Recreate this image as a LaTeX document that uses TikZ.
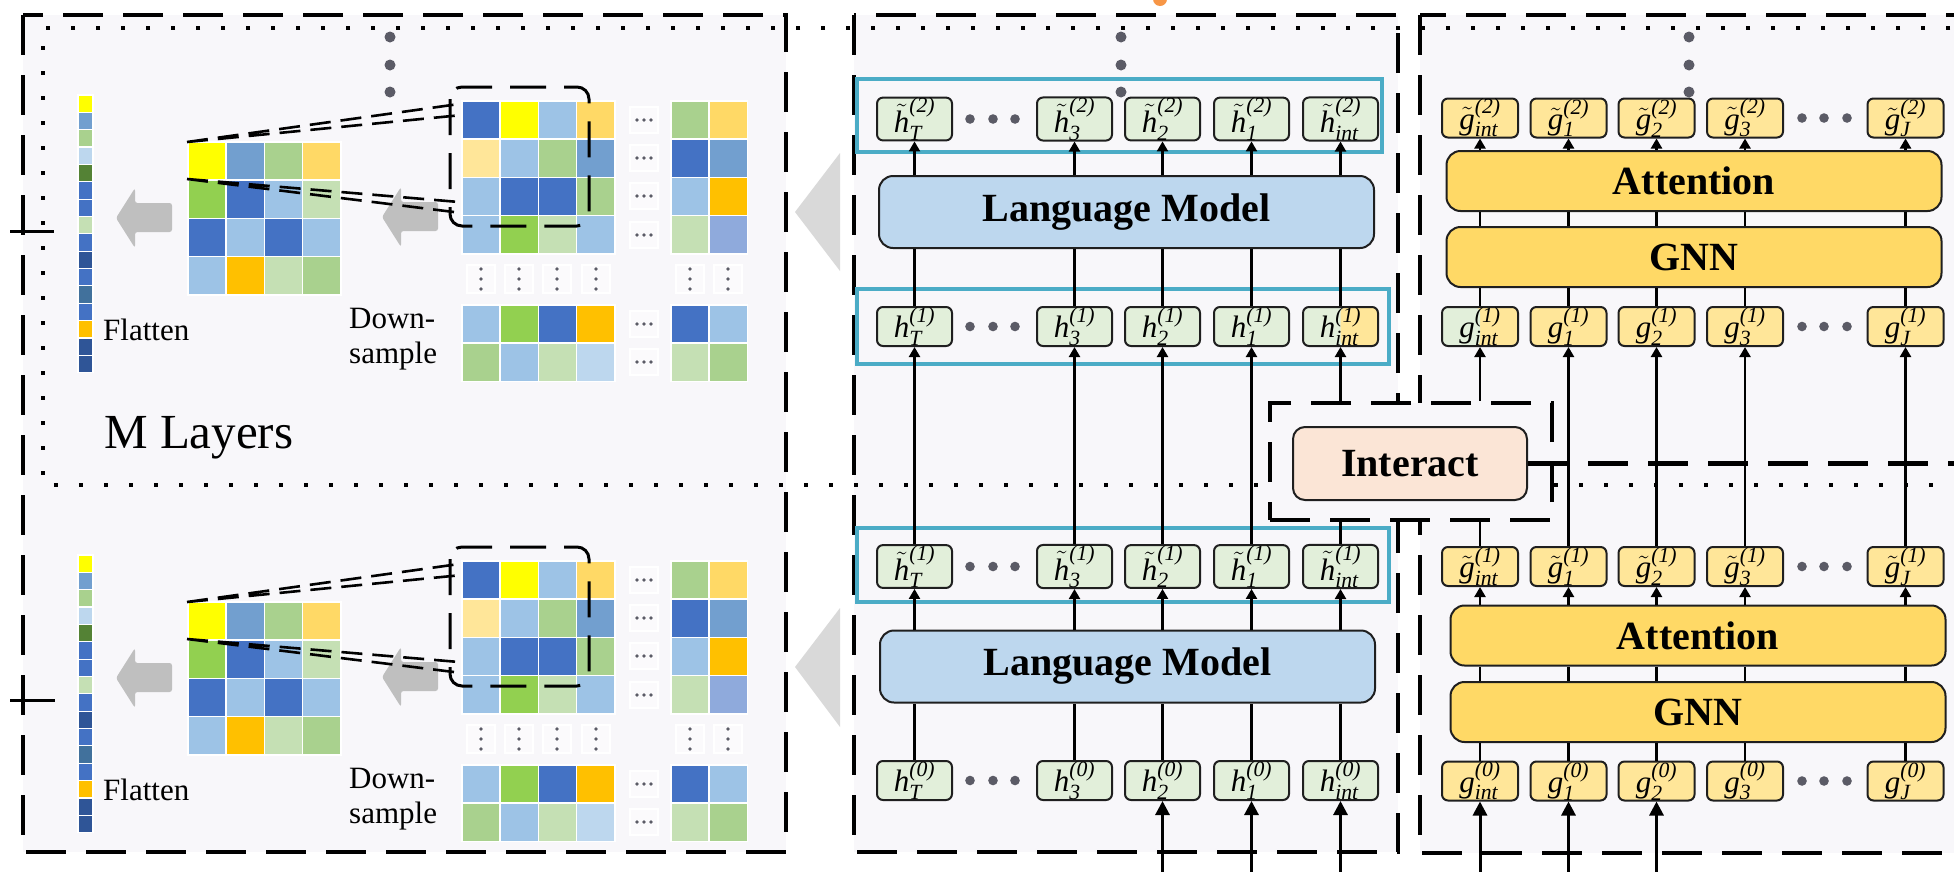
\RequirePackage{fix-cm}
\documentclass[tikz,border=0pt]{standalone}
\usepackage{amsmath}
\usepackage{fontspec}
\setmainfont{Liberation Serif}
\usetikzlibrary{arrows.meta}

% panel and box colours
\definecolor{bgl}{HTML}{F8F7FA}
\definecolor{tokg}{HTML}{E2EFDA}
\definecolor{toky}{HTML}{FFE699}
\definecolor{lmb}{HTML}{BDD7EE}
\definecolor{gold}{HTML}{FFD966}
\definecolor{peach}{HTML}{FBE5D6}
\definecolor{cyanb}{HTML}{4BACC6}
\definecolor{dotg}{HTML}{5B5B66}
\definecolor{arrg}{HTML}{BFBFBF}
\definecolor{trig}{HTML}{D9D9D9}
\definecolor{orng}{HTML}{F79646}
% feature-map cell colours
\definecolor{cY}{HTML}{FFFF00}
\definecolor{cB}{HTML}{4472C4}
\definecolor{cLB}{HTML}{9DC3E6}
\definecolor{cXB}{HTML}{BDD7EE}
\definecolor{cSB}{HTML}{729FCF}
\definecolor{cG}{HTML}{92D050}
\definecolor{cLG}{HTML}{A9D18E}
\definecolor{cXG}{HTML}{C5E0B4}
\definecolor{cGo}{HTML}{FFD966}
\definecolor{cLGo}{HTML}{FFE699}
\definecolor{cO}{HTML}{FFC000}
\definecolor{cDG}{HTML}{548235}
\definecolor{cDB}{HTML}{2F5597}
\definecolor{cTB}{HTML}{41719C}
\definecolor{cPB}{HTML}{8FAADC}

\newcommand\tkfont{\fontsize{31}{33}\selectfont}
\newcommand\tkv[3]{$\text{\itshape #1}^{\text{\itshape (#3)}}_{\text{\itshape #2}}$}
\newcommand\tkt[3]{$\tilde{\text{\itshape #1}}^{\text{\itshape (#3)}}_{\text{\itshape #2}}$}

\tikzset{
  panelline/.style={line width=4.5pt, dash pattern=on 40pt off 20pt},
  loopline/.style={line width=4pt, dash pattern=on 4pt off 21pt},
  winline/.style={line width=3pt, dash pattern=on 36pt off 18pt},
  projline/.style={line width=2.6pt, dash pattern=on 21pt off 10pt},
  tkg/.style={draw=black!88, line width=2pt, rounded corners=6pt, fill=tokg,
    minimum width=75pt, minimum height=39pt, inner sep=0pt, font=\tkfont},
  tky/.style={tkg, fill=toky, minimum width=76pt},
  halfy/.style={path picture={\fill[toky] (path picture bounding box.south) rectangle (path picture bounding box.north east);}},
  halfg/.style={path picture={\fill[tokg] (path picture bounding box.south west) rectangle (path picture bounding box.north);}},
  bigbox/.style={draw=black!88, line width=2pt, rounded corners=14pt, inner sep=0pt,
    font=\fontsize{40}{44}\selectfont\bfseries},
  lmbox/.style={bigbox, fill=lmb, minimum width=495pt, minimum height=72pt},
  gbox/.style={bigbox, fill=gold, minimum width=495pt, minimum height=60pt},
  up/.style={line width=2.2pt, -{Triangle[length=10pt,width=11pt]}},
  link/.style={line width=2.2pt},
  inarrow/.style={line width=3pt, -{Triangle[length=14pt,width=14pt]}},
  lbl/.style={inner sep=0pt, font=\fontsize{31}{34}\selectfont},
}

% one row of square cells, left edge #1, top edge #2
\newcommand\cellrow[3]{%
  \foreach \cc [count=\ii from 0] in {#3}
    \filldraw[fill=\cc, draw=white, line width=1.6pt] ({#1+\ii*38.2},{#2}) rectangle ++(38.2,38.2);}
% small box holding a horizontal ellipsis
\newcommand\hdotbox[2]{%
  \filldraw[fill=white!40!bgl, draw=white, line width=1.5pt] ({#1-14},{#2-13}) rectangle ({#1+14},{#2+13});
  \foreach \kk in {-7,0,7} \fill[dotg] ({#1+\kk},{#2}) circle (1.9pt);}
% small box holding a vertical ellipsis
\newcommand\vdotbox[2]{%
  \filldraw[fill=white!40!bgl, draw=white, line width=1.5pt] ({#1-14},{#2-14}) rectangle ({#1+14},{#2+14});
  \foreach \kk in {-10,0,10} \fill[dotg] ({#1},{#2+\kk}) circle (1.9pt);}
% grey block arrow pointing left, tip at (#1,#2)
\newcommand\blockarrow[2]{%
  \fill[arrg, rounded corners=2.5pt] (#1,#2) -- ({#1+19},{#2-30}) -- ({#1+19},{#2-15}) -- ({#1+56},{#2-15})
    -- ({#1+56},{#2+14}) -- ({#1+19},{#2+14}) -- ({#1+19},{#2+30}) -- cycle;}

% feature map, down-sampling and flattening of one layer
\newcommand\featlayer[2]{%
\begin{scope}[shift={(0,#1)}]
  \foreach \cc [count=\ii from 0] in {cY,cSB,cLG,cXB,cDG,cB,cB,cXG,cB,cDB,cB,cTB,cB,cO,cDB,cDB}
    \filldraw[fill=\cc, draw=white, line width=1.2pt] (78,{95+\ii*17.35}) rectangle ++(15,17.35);
  \node[lbl, anchor=base west] (flat#2) at (103,340) {Flatten};
  \blockarrow{116}{218}
  \cellrow{188}{142}{cY,cSB,cLG,cGo}
  \cellrow{188}{180.2}{cG,cB,cLB,cXG}
  \cellrow{188}{218.4}{cB,cLB,cB,cLB}
  \cellrow{188}{256.6}{cLB,cO,cXG,cLG}
  \blockarrow{382}{217}
  \node[lbl, anchor=base west] (down#2) at (349,328) {Down-};
  \node[lbl, anchor=base west] (samp#2) at (349,363) {sample};
  \cellrow{462}{101}{cB,cY,cLB,cGo}
  \cellrow{462}{139.2}{cLGo,cLB,cLG,cSB}
  \cellrow{462}{177.4}{cLB,cB,cB,cLG}
  \cellrow{462}{215.6}{cLB,cG,cXG,cLB}
  \cellrow{671}{101}{cLG,cGo}
  \cellrow{671}{139.2}{cB,cSB}
  \cellrow{671}{177.4}{cLB,cO}
  \cellrow{671}{215.6}{cXG,cPB}
  \cellrow{462}{305}{cLB,cG,cB,cO}
  \cellrow{462}{343.2}{cLG,cLB,cXG,cXB}
  \cellrow{671}{305}{cB,cLB}
  \cellrow{671}{343.2}{cXG,cLG}
  \foreach \yy in {120,158,196,235,324,362} {\hdotbox{644}{\yy}}
  \foreach \xx in {481,519,557,596,690,728} {\vdotbox{\xx}{279}}
  \draw[winline, rounded corners=12pt] (450,87) rectangle (589,226);
  \draw[projline] (187,142) -- (459,104) (187,142) -- (462,115)
                  (187,179) -- (459,202) (187,179) -- (462,213);
\end{scope}}

\begin{document}
\begin{tikzpicture}[x=1pt, y=-1pt]
\useasboundingbox (0,0) rectangle (1954,871);
\fill[white] (0,0) rectangle (1954,871);
\coordinate (bottomedge) at (0,873);
\coordinate (farright) at (1962,463.5);

% panel backgrounds
\fill[bgl] (23,15) rectangle (786,852);
\fill[bgl] (854,15) rectangle (1398,852);
\fill[bgl] (1420,15) rectangle (1975,853);

% dotted loop frame of the M layers
\draw[loopline] (1975,28) -- (43,28) -- (43,485) -- (1975,485);

% dashed panel frames
\draw[panelline] (23,15) rectangle (786,852);
\draw[panelline] (854,15) rectangle (1398,852);
\draw[panelline] (1420,15) rectangle (1975,853);

\fill[orng] (1160,-1) circle (7pt);

% interaction block between the two branches
\node[draw, panelline, fill=bgl, minimum width=282pt, minimum height=117pt, inner sep=0pt] (intframe) at (1411,461.5) {};
\node[bigbox, fill=peach, minimum width=234pt, minimum height=73pt, rounded corners=12pt] (intbox) at (1410,463.5) {Interact};
\draw[panelline] (intbox.east) -- (farright);

% left side ticks
\draw[line width=3pt] (10,231) -- (54,231);
\draw[line width=3pt] (10,700) -- (55,700);

% vision branch
\featlayer{0}{a}
\featlayer{460}{b}
\node[inner sep=0pt, anchor=base west, font=\fontsize{49}{55}\selectfont] (mlay) at (104,448) {M Layers};

% hand-over triangles
\fill[trig] (795,212) -- (840,153) -- (840,271) -- cycle;
\fill[trig] (795,667) -- (840,608) -- (840,727) -- cycle;

% vertical ellipses above each branch
\foreach \xx in {390,1121,1689} \foreach \yy in {37,65,92} \fill[dotg] (\xx,\yy) circle (5.5pt);

% language branch
\draw[cyanb, line width=4pt] (857,79) rectangle (1382,152);
\draw[cyanb, line width=4pt] (857,289) rectangle (1389,364);
\draw[cyanb, line width=4pt] (857,528) rectangle (1389,602);

\node[lmbox] (lm1) at (1126.5,212) {Language Model};
\node[lmbox] (lm0) at (1127.5,666.5) {Language Model};

\foreach \xx/\ss in {914.5/T,1074.5/3,1162.5/2,1251.5/1,1340.5/int} {
  \node[tkg] (ht2\ss) at (\xx,119) {\tkt{h}{\ss}{2}};
  \node[tkg] (ht1\ss) at (\xx,566.5) {\tkt{h}{\ss}{1}};
  \node[tkg] (h0\ss) at (\xx,780.5) {\tkv{h}{\ss}{0}};
}
\foreach \xx/\ss in {914.5/T,1074.5/3,1162.5/2,1251.5/1} {
  \node[tkg] (h1\ss) at (\xx,326.5) {\tkv{h}{\ss}{1}};
}
\node[tkg, halfy] (h1int) at (1340.5,326.5) {\tkv{h}{int}{1}};

\foreach \ss in {T,3,2,1,int} {
  \draw[up] (ht2\ss |- lm1.north) -- (ht2\ss.south);
  \draw[link] (h1\ss.north) -- (h1\ss |- lm1.south);
  \draw[up] (ht1\ss |- lm0.north) -- (ht1\ss.south);
  \draw[link] (h0\ss.north) -- (h0\ss |- lm0.south);
}
\foreach \ss in {T,3,2,1} \draw[up] (ht1\ss.north) -- (h1\ss.south);
\draw[up] (h1int |- intframe.north) -- (h1int.south);
\draw[link] (ht1int.north) -- (ht1int |- intframe.south);
\foreach \ss in {2,1,int} \draw[inarrow] (h0\ss |- bottomedge) -- (h0\ss.south);

\foreach \yy in {119,326.5,566.5,780.5} \foreach \xx in {970,993,1015} \fill[dotg] (\xx,\yy) circle (4.8pt);

% graph branch
\node[gbox] (att1) at (1694,181) {Attention};
\node[gbox] (gnn1) at (1694,257) {GNN};
\node[gbox] (att0) at (1698,635.5) {Attention};
\node[gbox] (gnn0) at (1698,712) {GNN};

\foreach \xx/\ss in {1480/int,1568.5/1,1656.5/2,1745/3,1905.5/J} {
  \node[tky] (gt2\ss) at (\xx,118) {\tkt{g}{\ss}{2}};
  \node[tky] (gt1\ss) at (\xx,566.5) {\tkt{g}{\ss}{1}};
  \node[tky] (g0\ss) at (\xx,781) {\tkv{g}{\ss}{0}};
}
\foreach \xx/\ss in {1568.5/1,1656.5/2,1745/3,1905.5/J} {
  \node[tky] (g1\ss) at (\xx,326.5) {\tkv{g}{\ss}{1}};
}
\node[tky, halfg] (g1int) at (1480,326.5) {\tkv{g}{int}{1}};

\foreach \ss in {int,1,2,3,J} {
  \draw[up] (gt2\ss |- att1.north) -- (gt2\ss.south);
  \draw[link] (g1\ss |- gnn1.north) -- (g1\ss |- att1.south);
  \draw[link] (g1\ss.north) -- (g1\ss |- gnn1.south);
  \draw[up] (gt1\ss |- att0.north) -- (gt1\ss.south);
  \draw[link] (g0\ss |- gnn0.north) -- (g0\ss |- att0.south);
  \draw[link] (g0\ss.north) -- (g0\ss |- gnn0.south);
}
\foreach \ss in {1,2,3,J} \draw[up] (gt1\ss.north) -- (g1\ss.south);
\draw[up] (g1int |- intframe.north) -- (g1int.south);
\draw[link] (gt1int.north) -- (gt1int |- intframe.south);
\foreach \ss in {int,1,2} \draw[inarrow] (g0\ss |- bottomedge) -- (g0\ss.south);

\foreach \yy in {118,326.5,566.5,781} \foreach \xx in {1802,1824,1847} \fill[dotg] (\xx,\yy) circle (4.8pt);
\end{tikzpicture}
\end{document}
